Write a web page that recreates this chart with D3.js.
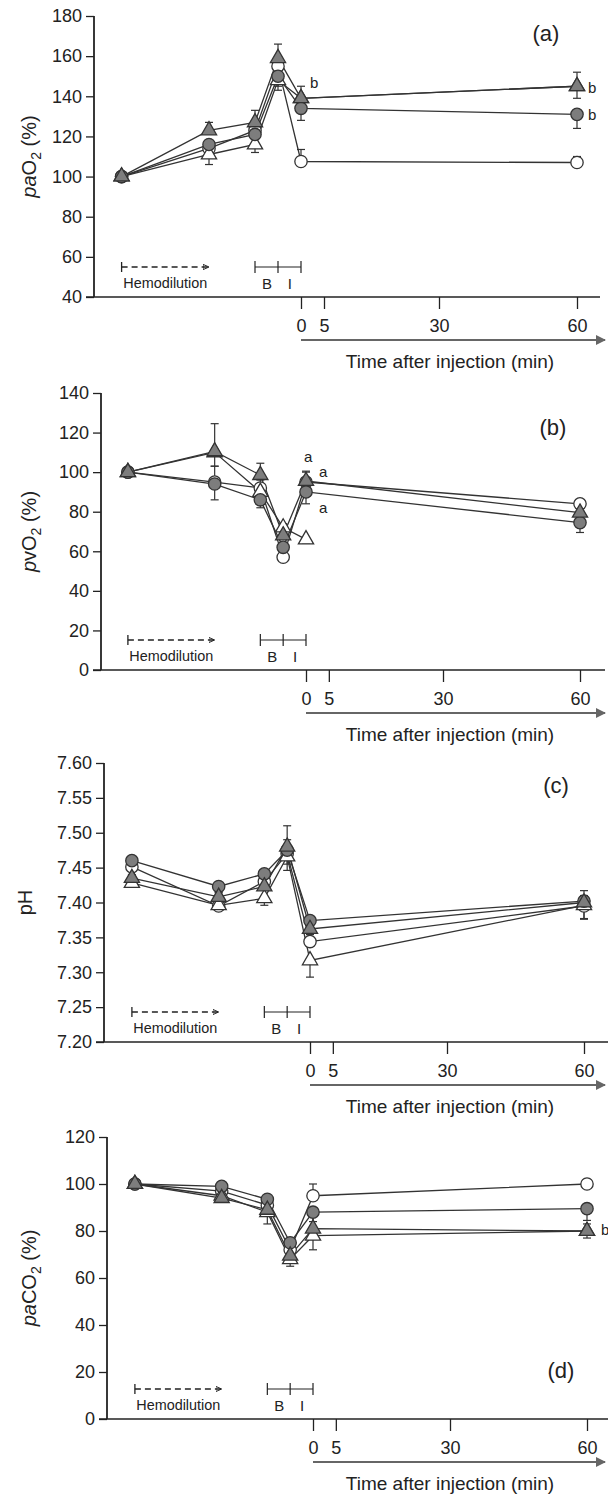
<!DOCTYPE html>
<html><head><meta charset="utf-8">
<script src="https://cdn.jsdelivr.net/npm/d3@7"></script>
<style>body{margin:0;background:#fff}svg{display:block}text{font-family:Arial,"Liberation Sans",sans-serif;fill:#222}</style>
</head><body>
<svg id="c" width="608" height="1497"></svg>
<script>
// time points (min; negative = before injection: start/end hemodilution, start/end B, end I)
const times = [-39, -20, -10, -5, 0, 60];
const xTicks = [0, 5, 30, 60];
const seriesNames = ["openCircle", "filledCircle", "filledTriangle", "openTriangle"];

// (a) paO2 (%)
const paO2_openCircle     = [100, 114, 123, 155, 107.5, 107];
const paO2_filledCircle   = [100, 116, 121, 150, 134, 131];
const paO2_filledTriangle = [100, 123, 127, 159, 139, 145];
const paO2_openTriangle   = [100, 111, 116, 148, 139, 145];
const paO2_err = [[0,4,4,5,6,3],[0,4,4,5,6,7],[0,4,6,7,6,7],[0,5,4,5,5,6]];
const paO2_ticks = [40, 60, 80, 100, 120, 140, 160, 180];

// (b) pvO2 (%)
const pvO2_openCircle     = [100, 95, 92, 57, 95, 84];
const pvO2_filledCircle   = [100, 94, 86, 62, 90, 74.5];
const pvO2_filledTriangle = [100, 110.5, 98.5, 68, 95.5, 79.5];
const pvO2_openTriangle   = [100, 110, 90, 72, 66, null];
const pvO2_err = [[0,8,4,4,5,2],[0,8,4,4,6,5],[0,14,6,6,5,3],[0,7,4,5,2,0]];
const pvO2_ticks = [0, 20, 40, 60, 80, 100, 120, 140];

// (c) pH
const pH_openCircle     = [7.451, 7.395, 7.430, 7.470, 7.344, 7.395];
const pH_filledCircle   = [7.460, 7.423, 7.441, 7.475, 7.374, 7.402];
const pH_filledTriangle = [7.435, 7.408, 7.423, 7.480, 7.362, 7.400];
const pH_openTriangle   = [7.428, 7.396, 7.406, 7.466, 7.317, 7.396];
const pH_err = [[0.005,0.006,0.01,0.02,0.01,0.022],[0.004,0.008,0.02,0.02,0.01,0.025],[0.005,0.006,0.01,0.03,0.01,0.01],[0.005,0.006,0.01,0.02,0.024,0.02]];
const pH_ticks = [7.20, 7.25, 7.30, 7.35, 7.40, 7.45, 7.50, 7.55, 7.60];

// (d) paCO2 (%)
const paCO2_openCircle     = [100, 97, 91, 72, 95, 100];
const paCO2_filledCircle   = [100, 99, 93.5, 75, 88, 89.5];
const paCO2_filledTriangle = [100, 94, 89, 69.5, 81, 80];
const paCO2_openTriangle   = [100, 95, 88, 68, 78, 80];
const paCO2_err = [[0,2,3,3,5,2],[0,2,4,3,4,5],[0,2,5,3,6,3],[0,2,5,3,6,3]];
const paCO2_ticks = [0, 20, 40, 60, 80, 100, 120];

const panels = [
 {tag:"(a)", lab:[["pa",1],["O",0],["2",2],[" (%)",0]], dom:[40,180], ticks:paO2_ticks, fmt:d3.format("d"),
  vals:[paO2_openCircle,paO2_filledCircle,paO2_filledTriangle,paO2_openTriangle], err:paO2_err,
  ax:94, x0:301, x60:577, xEnd:600, yT:16, yB:297, tagY:33, tagX:546, notes:[["b",310,83],["b",588,88],["b",588,115]]},
 {tag:"(b)", lab:[["p",1],["vO",0],["2",2],[" (%)",0]], dom:[0,140], ticks:pvO2_ticks, fmt:d3.format("d"),
  vals:[pvO2_openCircle,pvO2_filledCircle,pvO2_filledTriangle,pvO2_openTriangle], err:pvO2_err,
  ax:101, x0:306, x60:580, xEnd:605, yT:393, yB:670, tagY:427, tagX:553, notes:[["a",304,457],["a",319,472],["a",319,508]]},
 {tag:"(c)", lab:[["pH",0]], dom:[7.2,7.6], ticks:pH_ticks, fmt:d3.format(".2f"),
  vals:[pH_openCircle,pH_filledCircle,pH_filledTriangle,pH_openTriangle], err:pH_err,
  ax:104, x0:310, x60:584, xEnd:608, yT:763, yB:1042, tagY:785, tagX:556, notes:[]},
 {tag:"(d)", lab:[["pa",1],["CO",0],["2",2],[" (%)",0]], dom:[0,120], ticks:paCO2_ticks, fmt:d3.format("d"),
  vals:[paCO2_openCircle,paCO2_filledCircle,paCO2_filledTriangle,paCO2_openTriangle], err:paCO2_err,
  ax:107, x0:313, x60:587, xEnd:608, yT:1137, yB:1419, tagY:1370, tagX:561, notes:[["b",601,1230]]}
];

const svg = d3.select("#c");
const ink = "#222";
const defs = svg.append("defs");
defs.append("marker").attr("id","ah").attr("viewBox","0 0 10 10").attr("refX",9).attr("refY",5)
 .attr("markerWidth",7).attr("markerHeight",5).attr("orient","auto")
 .append("path").attr("d","M0,0L10,5L0,10z").attr("fill","#666");
defs.append("marker").attr("id","ah2").attr("viewBox","0 0 10 10").attr("refX",9).attr("refY",5)
 .attr("markerWidth",5).attr("markerHeight",5).attr("orient","auto")
 .append("path").attr("d","M0,1L9,5L0,9z").attr("fill","none").attr("stroke",ink).attr("stroke-width",1.5);

panels.forEach(p => {
  const g = svg.append("g");
  const x = d3.scaleLinear().domain([0,60]).range([p.x0,p.x60]);
  const y = d3.scaleLinear().domain(p.dom).range([p.yB,p.yT]);
  const ya = g.append("g").attr("transform",`translate(${p.ax},0)`)
    .call(d3.axisLeft(y).tickValues(p.ticks).tickFormat(p.fmt).tickSize(8).tickPadding(4));
  ya.select(".domain").attr("stroke",ink).attr("stroke-width",1.8).attr("d",`M0,${p.yT}V${p.yB}`);
  ya.selectAll(".tick line").attr("stroke",ink).attr("stroke-width",1.3);
  ya.selectAll(".tick text").attr("font-size",18).attr("fill",ink).attr("font-family","Arial");
  const xa = g.append("g").attr("transform",`translate(0,${p.yB})`)
    .call(d3.axisBottom(x).tickValues(xTicks).tickSize(12).tickPadding(10));
  xa.select(".domain").attr("stroke",ink).attr("stroke-width",1.6).attr("d",`M${p.ax-8},0H${p.xEnd}`);
  xa.selectAll(".tick line").attr("stroke",ink).attr("stroke-width",1.3);
  xa.selectAll(".tick text").attr("font-size",18).attr("fill",ink).attr("font-family","Arial");
  g.append("line").attr("x1",x(0)).attr("x2",605).attr("y1",p.yB+43).attr("y2",p.yB+43)
    .attr("stroke","#666").attr("stroke-width",2).attr("marker-end","url(#ah)");
  g.append("text").attr("x",450).attr("y",p.yB+71).attr("text-anchor","middle").attr("font-size",19)
    .text("Time after injection (min)");
  const yl = g.append("text").attr("transform",`translate(36,${(p.yT+p.yB)/2}) rotate(-90)`)
    .attr("text-anchor","middle").attr("font-size",20);
  p.lab.forEach(([t,k]) => {
    const s = yl.append("tspan").text(t);
    if (k===1) s.attr("font-style","italic");
    if (k===2) s.attr("font-size",14).attr("dy",5);
    if (k===0 && t.startsWith(" ")) s.attr("dy",-5);
  });
  if (p.lab.length===1) yl.attr("transform",`translate(32,${(p.yT+p.yB)/2}) rotate(-90)`);
  g.append("text").attr("x",p.tagX).attr("y",p.tagY+8).attr("text-anchor","middle").attr("font-size",22).text(p.tag);
  const hy = p.yB - 30;
  g.append("line").attr("x1",x(-39)).attr("x2",x(-20)).attr("y1",hy).attr("y2",hy)
    .attr("stroke",ink).attr("stroke-width",1.3).attr("stroke-dasharray","6,4").attr("marker-end","url(#ah2)");
  g.append("line").attr("x1",x(-39)).attr("x2",x(-39)).attr("y1",hy-5).attr("y2",hy+5).attr("stroke",ink).attr("stroke-width",1.3);
  g.append("text").attr("x",(x(-39)+x(-20))/2).attr("y",hy+21).attr("text-anchor","middle")
    .attr("font-size",15).attr("textLength",84).attr("lengthAdjust","spacingAndGlyphs").text("Hemodilution");
  g.append("line").attr("x1",x(-10)).attr("x2",x(0)).attr("y1",hy).attr("y2",hy).attr("stroke",ink).attr("stroke-width",1.2);
  [-10,-5,0].forEach(t => g.append("line").attr("x1",x(t)).attr("x2",x(t)).attr("y1",hy-6).attr("y2",hy+6).attr("stroke",ink).attr("stroke-width",1.2));
  g.append("text").attr("x",x(-7.4)).attr("y",hy+22).attr("text-anchor","middle").attr("font-size",15).text("B");
  g.append("text").attr("x",x(-2.4)).attr("y",hy+22).attr("text-anchor","middle").attr("font-size",15).text("I");
  const order = [0,3,1,2];
  const line = d3.line().defined(d=>d.v!=null).x(d=>x(d.t)).y(d=>y(d.v));
  order.forEach(si => {
    const pts = times.map((t,i)=>({t, v:p.vals[si][i]}));
    g.append("path").datum(pts).attr("d",line).attr("fill","none").attr("stroke","#333").attr("stroke-width",1.3);
  });
  order.forEach(si => {
    const pts = times.map((t,i)=>({t, v:p.vals[si][i], e:p.err[si][i]})).filter(d=>d.v!=null && d.e>0);
    const up = si===0 || si===2;
    pts.forEach(d => {
      const y2 = up ? y(d.v + d.e) : y(d.v - d.e);
      g.append("line").attr("x1",x(d.t)).attr("x2",x(d.t)).attr("y1",y(d.v)).attr("y2",y2).attr("stroke","#333").attr("stroke-width",1.2);
      g.append("line").attr("x1",x(d.t)-4).attr("x2",x(d.t)+4).attr("y1",y2).attr("y2",y2).attr("stroke","#333").attr("stroke-width",1.2);
    });
  });
  const sym = [d3.symbolCircle, d3.symbolCircle, d3.symbolTriangle, d3.symbolTriangle];
  const fill = ["#fff", "#7d7d7d", "#7d7d7d", "#fff"];
  order.forEach(si => {
    const pts = times.map((t,i)=>({t, v:p.vals[si][i]})).filter(d=>d.v!=null);
    g.selectAll(null).data(pts).join("path")
      .attr("d", d3.symbol().type(sym[si]).size(si<2?120:100))
      .attr("transform", d=>`translate(${x(d.t)},${y(d.v)})`)
      .attr("fill", fill[si]).attr("stroke","#333").attr("stroke-width",1.3);
  });
  p.notes.forEach(([t,nx,ny]) => g.append("text").attr("x",nx).attr("y",ny+5).attr("font-size",15).text(t));
});
</script>
</body></html>
